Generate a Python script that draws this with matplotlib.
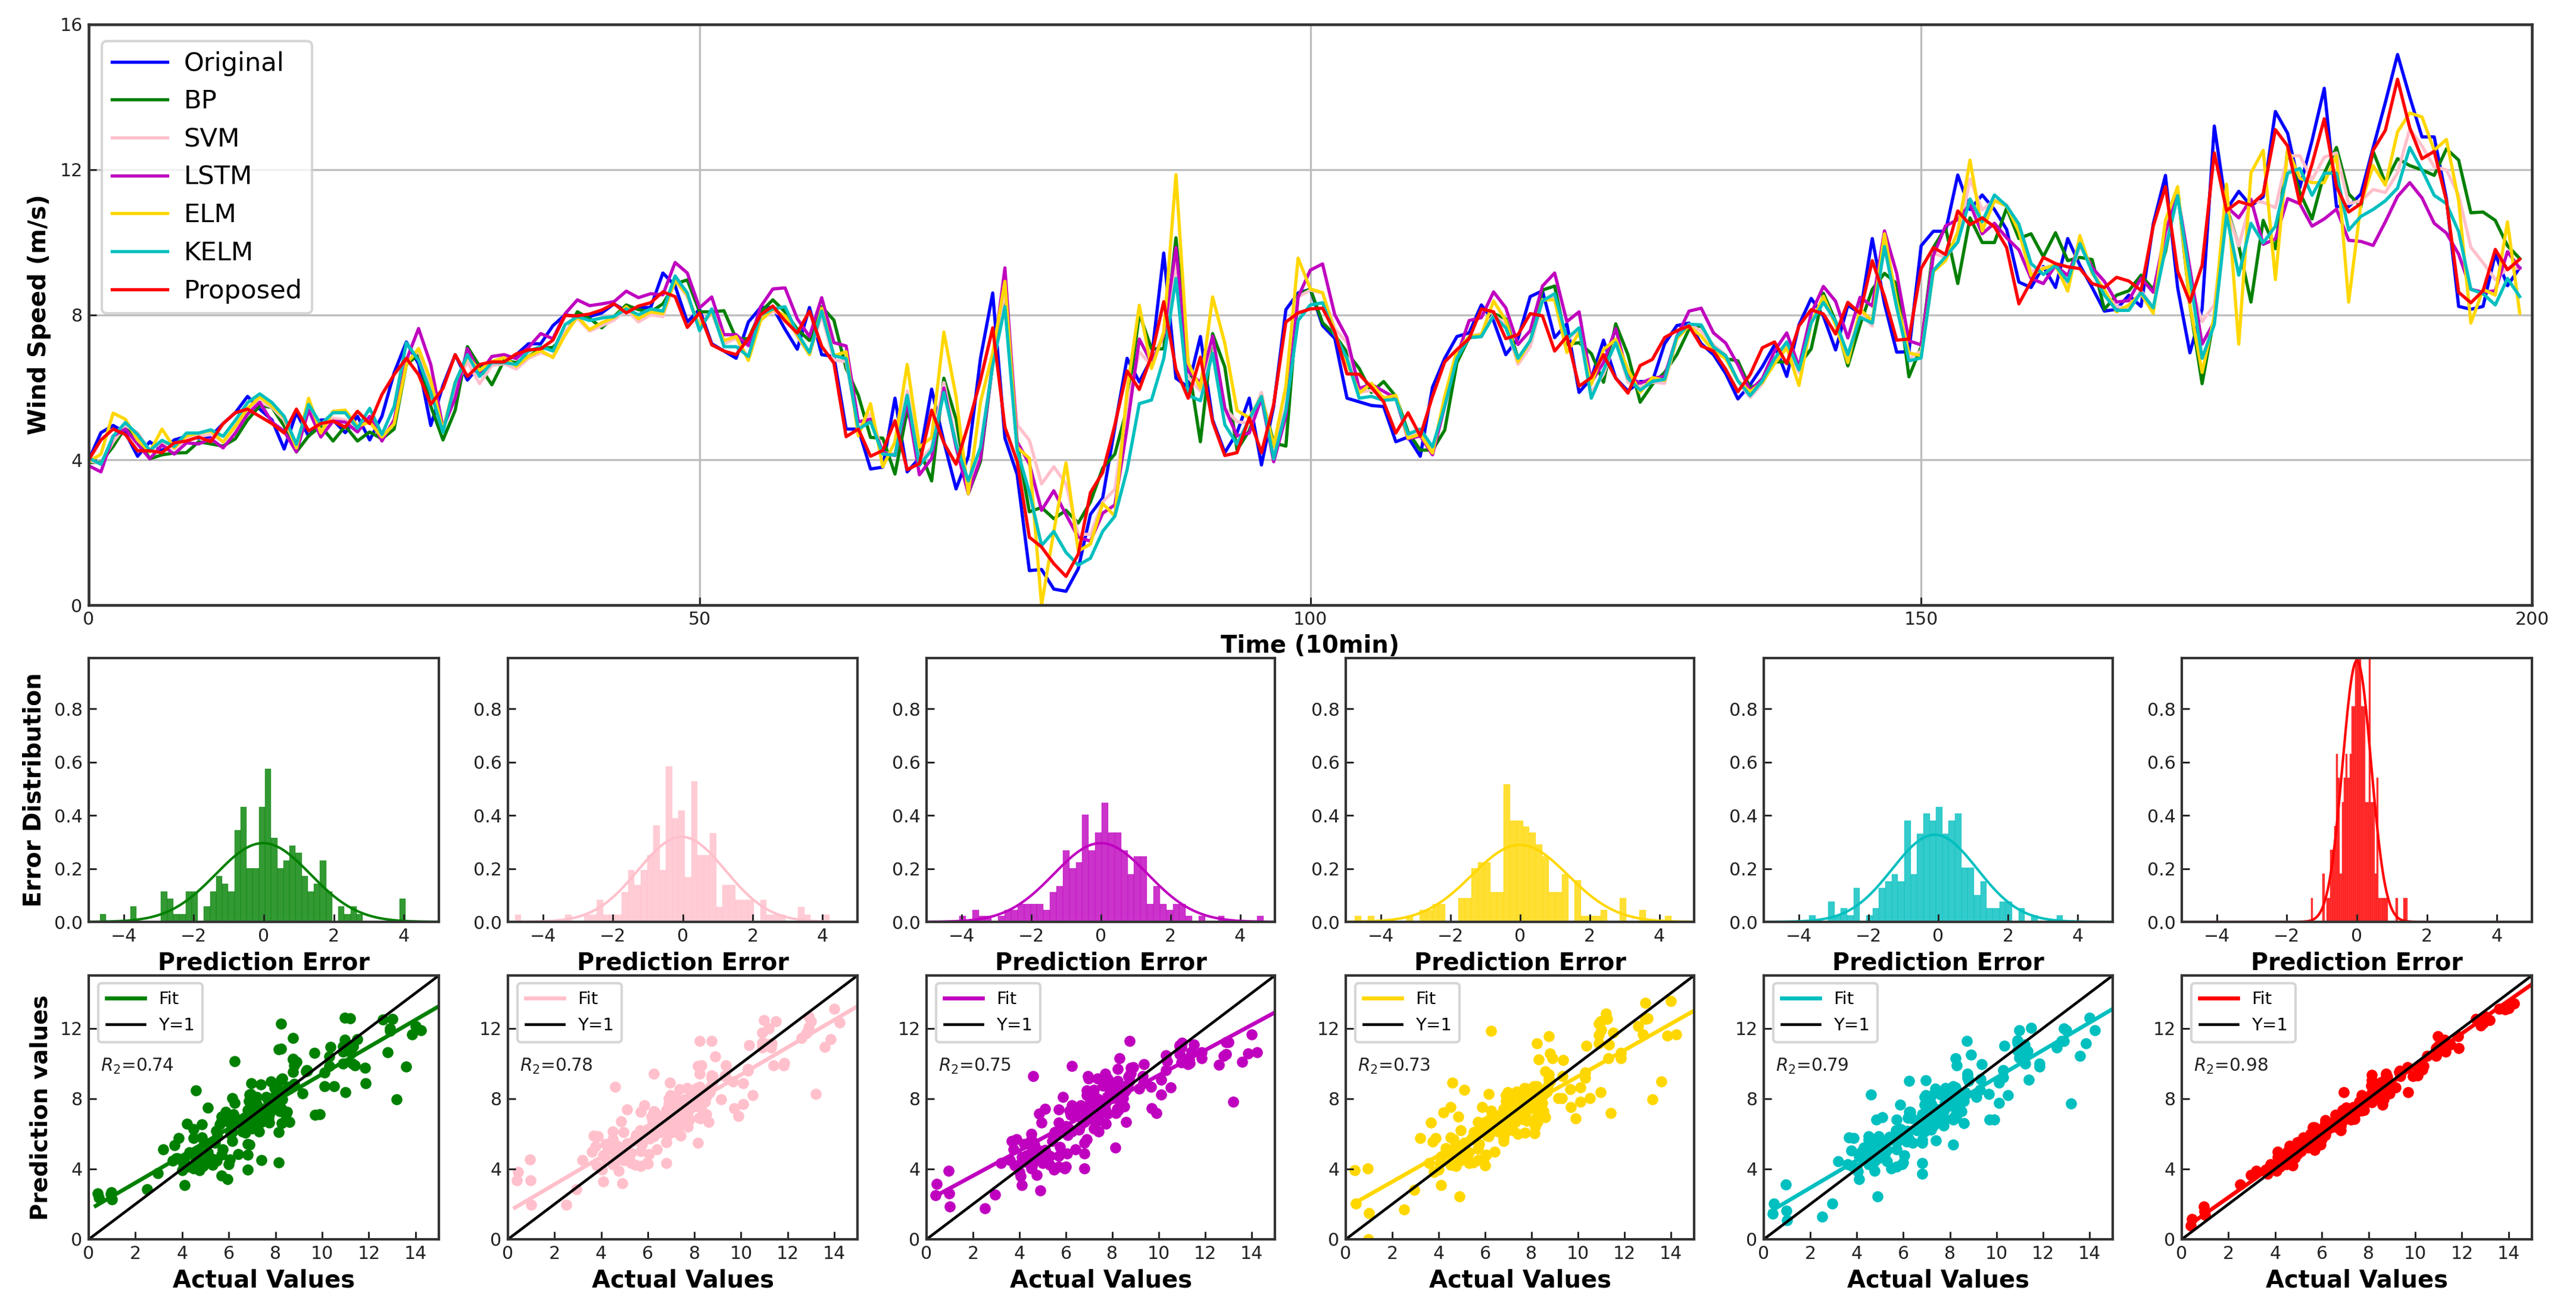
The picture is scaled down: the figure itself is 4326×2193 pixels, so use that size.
import numpy as np
import matplotlib
matplotlib.use("Agg")
import matplotlib.pyplot as plt

W, H = 4326, 2193
plt.rcParams['font.family'] = ['DejaVu Sans']
plt.rcParams['mathtext.default'] = 'it'

original = [
4.0,4.75,4.95,4.75,4.1,4.5,4.25,4.55,4.65,4.6,
4.65,5.0,5.3,5.75,5.4,5.1,4.3,5.3,4.65,5.1,
5.1,4.75,5.2,4.55,5.2,6.4,7.25,6.65,4.95,6.05,
6.9,6.2,6.6,6.7,6.7,6.9,7.2,7.2,7.7,8.0,
7.95,7.95,8.05,8.3,8.1,8.2,8.2,9.15,8.8,7.8,
8.15,7.2,7.0,6.8,7.8,8.2,8.2,7.6,7.05,8.2,
6.9,6.85,4.85,4.85,3.75,3.8,5.7,3.67,4.05,5.95,
4.5,3.2,4.1,6.8,8.6,4.6,3.6,0.95,0.98,0.44,
0.38,1.0,2.5,2.95,4.9,6.8,6.15,6.8,9.7,6.25,
6.0,7.4,5.1,4.2,4.75,5.7,3.86,5.48,8.14,8.6,
8.7,7.7,7.35,5.7,5.6,5.5,5.47,4.5,4.63,4.1,
6.0,6.8,7.4,7.5,8.27,7.83,6.9,7.34,8.5,8.66,
7.37,7.75,5.86,6.25,7.3,6.25,5.9,6.16,6.16,7.2,
7.7,7.77,7.2,6.9,6.38,5.68,6.07,6.57,7.17,6.3,
7.72,8.45,7.96,7.03,8.26,8.04,10.1,8.3,6.97,6.98,
9.9,10.3,10.3,11.85,10.9,11.3,10.9,10.35,8.9,8.75,
9.33,8.75,10.1,9.36,8.75,8.1,8.15,8.54,8.23,10.5,
11.84,8.74,6.95,8.15,13.2,10.9,11.4,11.0,11.25,13.6,
13.0,11.5,12.8,14.24,10.98,10.98,11.33,12.6,13.85,15.17,
14.0,12.9,12.9,11.2,8.23,8.15,8.23,9.67,8.8,9.3]

bp = [
3.93,3.93,4.37,4.9,4.6,4.03,4.14,4.19,4.2,4.5,
4.44,4.38,4.58,5.1,5.49,5.45,4.93,4.22,4.66,4.93,
4.52,4.93,4.52,4.77,4.58,4.85,6.63,6.9,5.48,4.55,
5.37,7.12,6.58,6.07,6.74,6.68,6.85,7.07,7.1,7.45,
8.08,7.9,7.64,7.95,8.27,8.14,8.08,8.3,8.85,8.96,
8.08,8.08,8.11,7.34,7.34,8.08,8.41,8.08,7.6,7.29,
8.22,7.85,6.52,5.78,4.62,4.6,3.61,5.36,4.31,3.42,
6.25,5.12,3.07,3.96,6.67,8.45,4.47,2.57,2.69,2.38,
2.61,2.26,2.84,3.77,4.16,5.43,8.03,7.06,7.06,10.12,
6.67,4.5,7.48,6.56,4.27,4.81,5.75,4.47,4.38,8.55,
8.71,7.78,7.45,6.96,6.52,5.86,6.16,5.75,4.77,4.27,
4.27,4.82,6.68,7.37,7.4,8.03,7.89,6.8,7.23,8.68,
8.79,7.18,7.23,6.93,6.14,7.75,6.9,5.59,6.08,6.41,
6.9,7.6,7.7,7.1,6.79,6.73,5.99,6.13,6.7,6.7,
6.62,7.06,8.59,7.82,6.59,7.72,8.7,9.14,8.86,6.29,
7.11,9.85,10.4,8.86,10.67,9.99,9.99,10.94,10.1,10.23,
9.6,10.26,9.49,9.58,9.52,8.15,8.54,8.66,9.09,8.7,
9.74,11.45,8.27,6.1,7.96,10.98,9.9,8.35,10.6,9.82,
12.53,11.37,10.64,11.9,12.61,11.33,10.98,12.5,11.64,12.3,
12.11,11.99,11.84,12.57,12.26,10.81,10.83,10.6,9.9,9.55]

svm = [
3.98,3.9,4.5,4.95,4.75,4.25,4.5,4.3,4.6,4.65,
4.7,4.5,4.9,5.4,5.6,5.45,5.1,4.35,5.35,4.8,
5.15,5.1,4.85,5.1,4.6,5.1,6.7,7.0,6.1,4.85,
6.0,6.7,6.1,6.6,6.65,6.5,6.8,6.95,6.85,7.55,
7.9,7.55,7.7,7.85,8.15,7.8,8.0,7.95,8.95,8.5,
7.65,8.05,7.2,7.35,6.8,7.85,8.1,7.95,7.4,6.9,
8.0,6.75,6.71,4.85,5.28,4.2,4.16,5.9,3.96,4.35,
6.13,4.5,3.27,4.35,6.67,8.68,4.97,4.54,3.34,3.81,
3.34,1.95,1.95,2.84,3.19,5.51,6.98,6.59,7.45,9.4,
6.28,5.9,7.37,5.43,5.05,5.01,5.86,4.22,5.48,8.49,
8.68,8.6,7.62,7.23,5.86,5.92,5.73,5.7,4.66,4.77,
4.3,5.53,6.9,7.4,7.48,8.0,7.73,6.63,7.12,8.38,
8.52,7.29,7.62,5.86,6.36,7.29,6.14,6.0,6.14,6.11,
7.34,7.74,7.55,7.17,6.89,6.18,5.72,6.1,6.76,7.22,
6.4,7.82,8.37,7.77,6.87,8.04,7.69,9.9,8.2,6.79,
7.0,9.69,9.58,10.01,11.74,10.89,11.16,11.03,10.4,9.19,
9.3,9.3,8.86,9.9,9.3,8.59,8.23,8.16,8.66,8.19,
9.9,11.29,8.89,7.81,8.27,10.91,9.9,11.14,11.1,10.95,
12.38,12.38,11.72,12.34,12.46,11.06,11.14,11.45,11.37,11.91,
13.12,12.65,12.07,11.99,11.29,9.86,9.43,8.97,9.28,9.28]

lstm = [
3.84,3.67,4.66,4.85,4.44,4.03,4.41,4.16,4.47,4.44,
4.58,4.33,4.74,5.26,5.59,5.04,4.79,4.22,5.37,4.63,
5.07,5.04,4.77,5.2,4.52,5.1,6.74,7.62,6.63,4.88,
5.7,7.07,6.38,6.85,6.9,6.79,7.1,7.48,7.34,8.03,
8.41,8.25,8.3,8.36,8.65,8.47,8.58,8.55,9.44,9.15,
8.19,8.49,7.45,7.45,7.15,8.22,8.71,8.74,7.89,7.4,
8.47,7.23,7.14,5.05,5.12,4.2,4.12,5.59,3.59,4.04,
5.98,4.35,3.07,4.04,6.67,9.29,4.5,3.89,2.61,3.15,
2.49,1.87,1.76,2.53,2.76,4.89,7.33,6.67,7.45,9.85,
6.44,6.13,7.41,5.43,4.66,4.74,5.7,3.95,5.2,8.49,
9.23,9.4,8.0,7.37,5.97,6.08,5.89,5.7,4.58,4.66,
4.14,5.48,6.85,7.84,7.92,8.63,8.19,7.18,7.56,8.79,
9.15,7.81,8.08,6.14,6.68,7.62,6.3,6.11,6.25,6.3,
7.4,8.1,8.18,7.5,7.22,6.62,5.91,6.24,7.0,7.5,
6.57,8.04,8.78,8.37,7.36,8.48,8.24,10.31,9.14,7.28,
7.17,9.63,10.45,10.62,11.05,10.23,10.52,10.12,9.79,9.0,
8.86,9.36,9.08,9.96,9.3,8.92,8.35,8.39,9.01,8.62,
10.29,11.29,9.28,7.19,7.81,10.98,10.67,11.18,9.94,10.09,
11.2,11.06,10.44,10.64,10.91,10.05,10.02,9.91,10.56,11.26,
11.64,11.22,10.52,10.25,9.67,8.7,8.62,8.66,9.74,9.28]

elm = [
3.95,4.16,5.29,5.12,4.55,4.22,4.85,4.33,4.66,4.74,
4.8,4.49,4.93,5.42,5.73,5.48,5.18,4.33,5.7,4.74,
5.34,5.37,4.93,5.04,4.63,4.99,6.63,7.07,6.19,4.82,
6.14,6.85,6.47,6.71,6.82,6.58,6.85,7.01,6.82,7.45,
7.95,7.59,7.78,7.92,8.22,7.89,8.08,8.03,8.96,8.55,
7.67,8.08,7.29,7.4,6.74,7.84,8.16,7.97,7.45,6.9,
8.18,6.87,6.98,4.66,5.55,3.81,4.5,6.63,4.35,4.62,
7.52,5.74,3.07,5.59,6.94,8.92,4.35,4.04,0.0,2.03,
3.92,1.49,1.68,2.8,2.45,5.9,8.26,6.52,7.52,11.86,
6.67,5.98,8.49,7.21,5.36,5.16,5.75,4.38,6.03,9.56,
8.71,8.61,7.51,6.68,5.84,6.11,5.7,5.78,4.6,4.71,
4.19,5.75,7.01,7.4,7.45,8.38,7.84,6.71,7.29,8.41,
8.41,6.96,7.51,6.08,7.04,7.32,6.49,5.86,6.27,6.19,
7.34,7.69,7.41,7.0,6.79,6.18,5.88,6.13,6.65,7.09,
6.05,7.77,8.51,7.72,6.68,8.15,7.82,10.23,8.37,6.95,
6.87,9.19,9.49,10.29,12.26,10.31,11.14,11.0,10.29,9.08,
9.27,9.38,8.65,10.18,9.14,8.7,8.08,8.27,8.58,8.04,
10.6,11.53,8.27,6.41,7.96,11.6,7.19,11.91,12.53,8.97,
12.57,11.76,11.64,11.64,12.38,8.35,11.06,12.11,11.57,13.04,
13.56,13.45,12.53,12.83,11.14,7.77,8.7,8.54,10.56,8.04]

kelm = [
4.05,3.88,4.65,5.03,4.7,4.26,4.54,4.37,4.74,4.74,
4.83,4.65,5.09,5.58,5.82,5.58,5.2,4.43,5.53,4.98,
5.3,5.3,4.87,5.42,4.7,5.47,7.23,6.74,5.86,4.76,
6.13,6.9,6.3,6.68,6.68,6.63,7.0,7.12,7.0,7.73,
7.95,7.84,7.91,7.95,8.16,8.0,8.16,8.1,9.07,8.6,
7.56,8.16,7.12,7.12,6.85,8.0,8.16,8.22,7.5,6.96,
8.1,6.87,6.79,4.85,5.05,4.16,4.13,5.78,3.85,4.27,
5.86,4.43,3.42,4.35,6.6,8.22,4.27,3.11,1.64,2.03,
1.45,1.1,1.29,2.03,2.45,3.73,5.55,5.65,6.79,9.0,
5.78,5.63,6.94,4.97,4.43,5.12,5.75,4.03,5.37,7.84,
8.27,8.33,7.45,6.8,5.7,5.75,5.64,5.67,4.71,4.85,
4.36,5.48,6.8,7.37,7.4,7.97,7.64,6.8,7.29,8.38,
8.58,7.34,7.64,5.7,6.47,7.23,6.25,5.92,6.16,6.22,
7.4,7.74,7.72,7.11,6.87,6.18,5.77,6.18,6.79,7.25,
6.48,7.77,8.34,7.82,6.9,7.93,7.77,9.88,8.2,6.73,
6.81,9.22,9.6,10.0,11.19,10.56,11.3,11.0,10.5,9.41,
9.11,9.36,8.92,9.96,9.19,8.54,8.12,8.12,8.62,8.19,
9.82,11.28,9.05,6.8,7.73,10.75,9.09,10.52,9.98,10.44,
11.9,12.03,11.29,11.9,11.9,10.33,10.71,10.9,11.14,11.49,
12.61,11.99,11.29,11.06,10.29,8.7,8.58,8.27,9.0,8.5]

proposed = [
4.0,4.55,4.85,4.7,4.25,4.25,4.2,4.47,4.52,4.63,
4.5,5.0,5.3,5.4,5.2,5.0,4.74,5.4,4.8,5.0,
5.07,4.9,5.34,5.0,5.8,6.35,6.8,6.35,5.53,5.97,
6.9,6.3,6.63,6.7,6.7,6.92,7.03,7.06,7.3,7.98,
7.97,8.02,8.13,8.3,8.05,8.24,8.33,8.63,8.5,7.65,
8.05,7.17,7.0,6.9,7.34,8.0,8.24,7.83,7.5,8.1,
7.13,6.67,4.64,4.85,4.1,4.26,5.08,3.73,3.9,5.37,
4.47,3.88,4.97,6.2,7.64,4.9,3.96,1.87,1.6,1.14,
0.79,1.4,3.1,3.65,4.97,6.45,5.94,6.87,8.36,6.5,
5.7,6.83,5.05,4.12,4.2,5.16,4.2,5.53,7.8,8.05,
8.16,8.18,7.53,6.37,6.36,6.0,5.6,4.74,5.3,4.66,
5.75,6.7,7.04,7.34,8.16,8.08,7.34,7.45,8.03,7.97,
7.0,7.4,6.03,6.27,6.9,6.25,5.84,6.6,6.77,7.37,
7.56,7.69,7.14,7.0,6.5,5.88,6.35,7.09,7.25,6.65,
7.69,8.14,8.02,7.47,8.34,8.04,9.49,8.5,7.3,7.33,
9.27,9.85,9.66,10.86,10.48,10.67,10.42,9.85,8.3,8.92,
9.58,9.41,9.32,9.27,8.86,8.75,9.03,8.93,8.67,10.44,
11.53,9.2,8.35,9.36,12.46,10.87,11.12,11.02,11.33,13.1,
12.65,11.06,12.15,13.4,11.53,10.83,11.06,12.53,13.08,14.49,
13.15,12.3,12.5,11.14,8.62,8.33,8.66,9.8,9.24,9.53]

series_names = ['Original', 'BP', 'SVM', 'LSTM', 'ELM', 'KELM', 'Proposed']
series_colors = ['#0000ff', '#008000', '#ffc0cb', '#bf00bf', '#ffd700', '#00bfbf', '#ff0000']

# histogram bars: counts per bin, outer bin edges, height of one count
bp_counts = [1,0,0,0,0,2,0,0,0,0,4,3,1,1,4,4,0,2,4,6,5,4,12,15,7,7,15,20,11,7,8,10,9,6,4,5,8,4,0,2,1,2,1,0,0,0,0,0,0,3]
svm_counts = [1,0,0,0,0,0,0,0,1,0,0,1,1,3,1,1,1,4,7,5,7,9,13,7,21,14,15,6,19,9,9,12,2,5,5,3,3,3,0,3,1,1,1,0,0,2,1,0,0,1]
lstm_counts = [1,0,2,1,1,0,1,2,2,3,3,3,3,2,5,6,12,9,10,18,12,15,20,15,15,12,8,11,11,3,6,3,2,3,3,1,0,1,0,0,1,0,0,0,0,0,1]
elm_counts = [1,0,1,0,0,0,0,0,1,0,2,2,3,3,0,0,4,4,9,10,10,5,5,23,17,17,16,15,13,11,5,5,8,0,7,1,1,1,2,0,0,4,0,0,2,0,0,0,1,0]
kelm_counts = [1,0,0,3,1,2,1,5,0,1,2,5,6,7,6,15,7,13,16,15,17,13,15,16,8,8,4,6,2,2,3,3,0,2,0,1,0,0,0,1]
prop_counts = [1,0,0,0,0,0,2,0,1,1,3,3,4,7,6,2,5,6,7,6,7,9,9,11,11,11,9,9,5,5,11,5,5,2,6,1,1,1,1,1,0,0,0,0,1,0,0,0,1,1]
hist_counts = [bp_counts, svm_counts, lstm_counts, elm_counts, kelm_counts, prop_counts]
hist_lo = [-4.68, -4.8, -4.06, -4.74, -3.7, -1.31]
hist_hi = [4.05, 4.2, 4.67, 4.54, 3.57, 1.44]
hist_unit = [0.0287, 0.0278, 0.0224, 0.0224, 0.0254, 0.09]
fit_mean = [-0.02, -0.03, 0.0, 0.0, -0.1, 0.0]
fit_sigma = [1.35, 1.25, 1.35, 1.38, 1.22, 0.407]

fit_x = [0.3, 15.0]
fit_y0 = [1.9, 1.8, 2.4, 2.0, 1.6, 0.8]
fit_y1 = [13.25, 13.25, 12.9, 13.0, 13.1, 14.5]
r2_text = ['0.74', '0.78', '0.75', '0.73', '0.79', '0.98']

col_left = [149, 853, 1556, 2260, 2962, 3664]
col_right = [737, 1440, 2141, 2845, 3548, 4252]


def axes_px(l, t, r, b):
    return fig.add_axes([l / W, 1 - b / H, (r - l) / W, (b - t) / H])


def style(ax, lw=1.0):
    for s in ax.spines.values():
        s.set_linewidth(lw)
        s.set_color('#333333')
    ax.tick_params(direction='in', length=3.2, width=0.7, labelsize=7.2, pad=2.5, colors='#222222')


def xlabel(ax, text, size, frac):
    ax.set_xlabel(text, fontsize=size, fontweight='bold', va='center')
    ax.xaxis.set_label_coords(0.5, frac)


def ylabel(ax, text, size, x_px, left, right):
    ax.set_ylabel(text, fontsize=size, fontweight='bold', va='center')
    ax.yaxis.set_label_coords((x_px - left) / (right - left), 0.5)


fig = plt.figure(figsize=(W / 300, H / 300), dpi=300, facecolor='white')

# top panel
ax = axes_px(149, 41, 4252, 1016)
ax.set_zorder(5)
ax.patch.set_alpha(0)
style(ax, 1.1)
t = np.arange(200)
for y, name, c in zip([original, bp, svm, lstm, elm, kelm, proposed], series_names, series_colors):
    ax.plot(t, y, color=c, lw=1.3, label=name)
ax.set_xlim(0, 200)
ax.set_ylim(0, 16)
ax.set_xticks([0, 50, 100, 150, 200])
ax.set_yticks([0, 4, 8, 12, 16])
ax.grid(True, color='#bdbdbd', lw=0.8)
ax.set_axisbelow(True)
xlabel(ax, 'Time (10min)', 9.6, -0.0708)
ylabel(ax, 'Wind Speed (m/s)', 9.7, 66, 149, 4252)
ax.legend(loc='upper left', bbox_to_anchor=(0.0054, 0.971), borderaxespad=0, fontsize=10.4,
          labelspacing=0.5, handlelength=2.15, handletextpad=0.64, borderpad=0.38, framealpha=0.8)

# histograms and scatter panels
models = [bp, svm, lstm, elm, kelm, proposed]
colors = series_colors[1:]
orig = np.array(original)
xs = np.linspace(-5, 5, 400)
for i in range(6):
    a = axes_px(col_left[i], 1105, col_right[i], 1548)
    a.set_zorder(4)
    a.patch.set_alpha(0)
    style(a, 1.0)
    counts = np.array(hist_counts[i])
    edges = np.linspace(hist_lo[i], hist_hi[i], len(counts) + 1)
    a.bar(edges[:-1], counts * hist_unit[i], width=np.diff(edges), align='edge',
          color=colors[i], alpha=0.8, edgecolor=colors[i], linewidth=0.1)
    pdf = np.exp(-0.5 * ((xs - fit_mean[i]) / fit_sigma[i]) ** 2) / (fit_sigma[i] * np.sqrt(2 * np.pi))
    a.plot(xs, pdf, color=colors[i], lw=1.0)
    a.set_xlim(-5, 5)
    a.set_ylim(0, 0.99)
    a.set_xticks([-4, -2, 0, 2, 4])
    a.set_yticks([0, 0.2, 0.4, 0.6, 0.8])
    xlabel(a, 'Prediction Error', 9.5, -0.158)
    if i == 0:
        ylabel(a, 'Error Distribution', 9.5, 58, 149, 737)

    b = axes_px(col_left[i], 1638, col_right[i], 2081)
    style(b, 1.0)
    b.scatter(orig, models[i], s=20, color=colors[i], linewidths=0, clip_on=True)
    b.plot(fit_x, [fit_y0[i], fit_y1[i]], color=colors[i], lw=1.6, label='Fit')
    b.plot([0, 15], [0, 15], color='black', lw=1.1, label='Y=1')
    b.set_xlim(0, 15)
    b.set_ylim(0, 15)
    b.set_xticks(range(0, 15, 2))
    b.set_yticks([0, 4, 8, 12])
    xlabel(b, 'Actual Values', 9.6, -0.156)
    if i == 0:
        ylabel(b, 'Prediction values', 9.3, 69, 149, 737)
    b.legend(loc='upper left', bbox_to_anchor=(0.028, 0.97), borderaxespad=0, fontsize=7,
             handlelength=2.2, labelspacing=0.55, borderpad=0.45, handletextpad=0.8, framealpha=0.8)
    b.text(0.5, 9.85, '$R_2$=' + r2_text[i], fontsize=7.1, va='center', color='#222222')

for arr in [original, bp, svm, lstm, elm, kelm, proposed]:
    assert len(arr) == 200, len(arr)

fig.savefig('out.png', dpi=300, facecolor='white')
